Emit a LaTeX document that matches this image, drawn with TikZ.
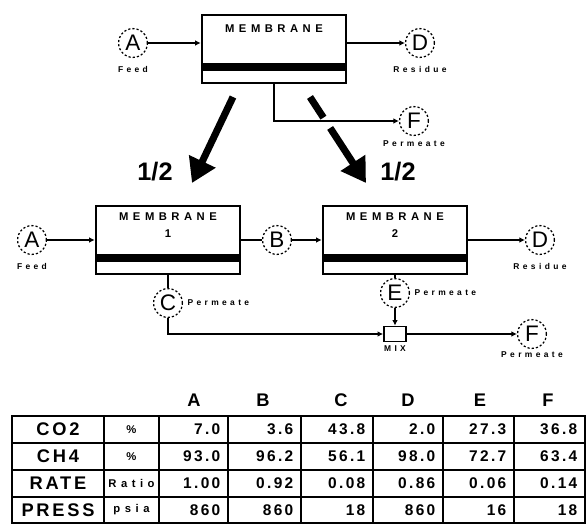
\documentclass[tikz,border=0pt]{standalone}
\usepackage{fontspec}
\setmainfont{Liberation Sans}
\newfontfamily\spaced[LetterSpace=40]{Liberation Sans}
\newfontfamily\wide[LetterSpace=15]{Liberation Sans}
\usetikzlibrary{arrows.meta,positioning,calc}
\tikzset{
  membrane/.style={draw=black,line width=1.8pt,minimum width=3.6cm,minimum height=1.7cm,inner sep=0pt,
    path picture={\fill ([yshift=0.3cm]path picture bounding box.south west) rectangle ([yshift=0.5cm]path picture bounding box.south east);}},
  title/.style={font=\spaced\bfseries\fontsize{8}{10}\selectfont,align=center,inner sep=1pt},
  stream/.style={circle,draw=black,dash pattern=on 1.5pt off 1.5pt,line width=0.9pt,minimum size=0.72cm,inner sep=0pt,font=\fontsize{16}{16}\selectfont},
  tag/.style={font=\spaced\bfseries\fontsize{6}{6}\selectfont,inner sep=1pt},
  mixer/.style={draw=black,line width=1.2pt,minimum width=0.55cm,minimum height=0.375cm,inner sep=0pt},
  flow/.style={-{Latex[length=4pt,width=4pt]},line width=1.1pt},
  pipe/.style={line width=1.1pt},
  split/.style={-{Triangle[length=0.6cm,width=0.7cm]},line width=5pt},
  half/.style={font=\bfseries\fontsize{18}{18}\selectfont,inner sep=0pt},
  head/.style={font=\bfseries\fontsize{13}{13}\selectfont,inner sep=0pt},
  rowname/.style={font=\wide\bfseries\fontsize{13}{13}\selectfont,inner sep=1pt},
  unit/.style={font=\spaced\bfseries\fontsize{8}{8}\selectfont,inner sep=1pt},
  cell/.style={font=\wide\bfseries\fontsize{11}{11}\selectfont,inner sep=1pt,anchor=east},
  grid/.style={line width=1.2pt}
}
\begin{document}
\begin{tikzpicture}[x=0.025cm,y=-0.025cm]
\useasboundingbox (0,0) rectangle (588,525);

% single membrane
\node[membrane] (mt) at (274,49) {};
\node[title,below=7pt of mt.north] (mttitle) {MEMBRANE};
\node[stream] (feedtop) at (133,43) {A};
\node[stream] (restop) at (420,43) {D};
\node[stream] (permtop) at (414,121) {F};
\node[tag,below=5pt of feedtop] (feedtoplbl) {Feed};
\node[tag,below=5pt of restop] (restoplbl) {Residue};
\node[tag,below=2pt of permtop] (permtoplbl) {Permeate};

\draw[flow] (feedtop) -- (feedtop -| mt.west);
\draw[flow] (mt.east |- restop) -- (restop);
\draw[flow] (mt.south) |- (permtop);

% split in two
\coordinate (sl0) at (233,97);
\coordinate (sl1) at (192,183);
\coordinate (sr0) at (310,97);
\coordinate (sr1) at (366,183);
\draw[split] (sl0) -- (sl1);
\draw[line width=5pt] (sr0) -- ($(sr0)!0.24!(sr1)$);
\draw[split] ($(sr0)!0.36!(sr1)$) -- (sr1);
\node[half] (halfl) at (155,172) {1/2};
\node[half] (halfr) at (398,172) {1/2};

% two membranes in series
\node[membrane] (m1) at (168,240) {};
\node[membrane] (m2) at (395,240) {};
\node[title,below=4.5pt of m1.north] (m1title) {MEMBRANE\\[2pt]1};
\node[title,below=4.5pt of m2.north] (m2title) {MEMBRANE\\[2pt]2};
\node[stream] (feed) at (32,240) {A};
\node[stream] (inter) at (277,240) {B};
\node[stream] (res) at (540,240) {D};
\node[stream] (perm1) at (168,303) {C};
\node[stream] (perm2) at (395,293) {E};
\node[mixer] (mix) at (395,334) {};
\node[stream] (perm) at (532,334) {F};
\node[tag,below=5pt of feed] (feedlbl) {Feed};
\node[tag,below=5pt of res] (reslbl) {Residue};
\node[tag,right=2pt of perm1] (perm1lbl) {Permeate};
\node[tag,right=2pt of perm2] (perm2lbl) {Permeate};
\node[tag,below=1pt of mix] (mixlbl) {MIX};
\node[tag,below=1pt of perm] (permlbl) {Permeate};

\draw[flow] (feed) -- (m1);
\draw[pipe] (m1) -- (inter);
\draw[flow] (inter) -- (m2);
\draw[flow] (m2) -- (res);
\draw[pipe] (m1) -- (perm1);
\draw[flow] (perm1) |- (mix);
\draw[pipe] (m2) -- (perm2);
\draw[flow] (perm2) -- (mix);
\draw[flow] (mix) -- (perm);

% stream table
\foreach \name/\x in {A/194,B/263,C/341,D/408,E/480,F/548}
  \node[head] (h\name) at (\x,400) {\name};
\draw[line width=1.8pt] (12,416) rectangle (585,523);
\foreach \x in {104,159,228,301,373,443,514}
  \draw[grid] (\x,416) -- (\x,523);
\foreach \y in {443,470,497}
  \draw[grid] (12,\y) -- (585,\y);
\foreach \row/\y/\name/\unit in {co/429.5/CO2/\%,ch/456.5/CH4/\%,rate/483.5/RATE/Ratio,press/510/PRESS/psia}{
  \node[rowname] (\row name) at (58,\y) {\name};
  \node[unit] (\row unit) at (131.5,\y) {\unit};
}
\foreach \col/\x/\co/\ch/\rate/\press in {
  A/222/7.0/93.0/1.00/860,
  B/295/3.6/96.2/0.92/860,
  C/367/43.8/56.1/0.08/18,
  D/437/2.0/98.0/0.86/860,
  E/508/27.3/72.7/0.06/16,
  F/579/36.8/63.4/0.14/18}{
  \node[cell] (co\col) at (\x,429.5) {\co};
  \node[cell] (ch\col) at (\x,456.5) {\ch};
  \node[cell] (rate\col) at (\x,483.5) {\rate};
  \node[cell] (press\col) at (\x,510) {\press};
}
\end{tikzpicture}
\end{document}
